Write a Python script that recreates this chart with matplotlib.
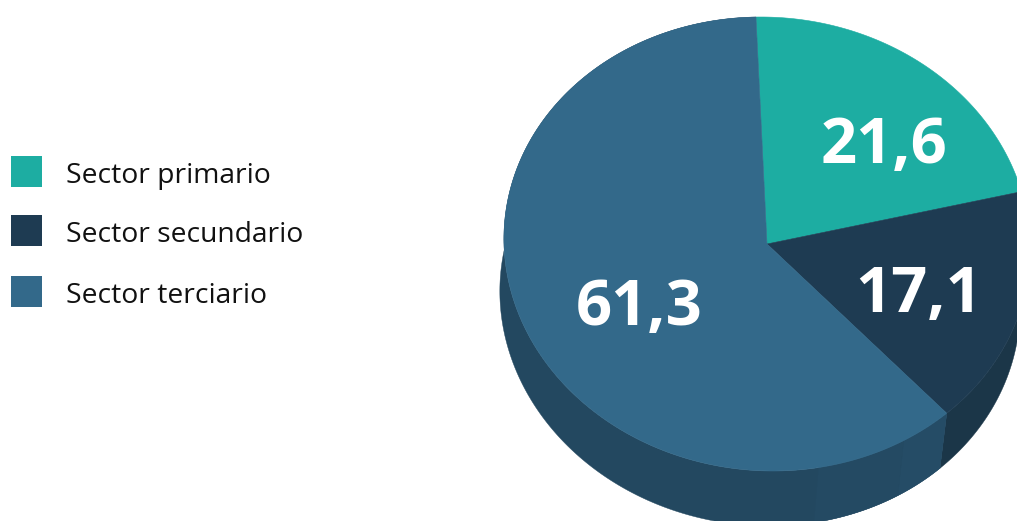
#!/usr/bin/env python3
"""
plot.py - Employment by sector, drawn as a tilted pie with a side wall
"""

import matplotlib
matplotlib.use("Agg")
import matplotlib.pyplot as plt
import numpy as np
from matplotlib.patches import Rectangle

sectors = ["Sector primario", "Sector secundario", "Sector terciario"]
shares = [21.6, 17.1, 61.3]
share_labels = ["21,6", "17,1", "61,3"]

W, H = 1017, 521

top_colors = ["#1DADA2", "#1E3B52", "#33698A"]
side_colors = [None, "#1B3648", "#234860"]

# the wall of the big slice gets slightly lighter towards the lit side
wall_shades = [(150, "#254C66"), (170, "#244A63")]

# ellipses are (cx, cy, rx, ry, shear) in pixels, the shear leans them a little
TOP = (767, 244, 263, 227, 6)
BASE = (760, 299, 260, 227, 9)
VERTEX = (767, 244)
START_ANGLE = -1.1


def ellipse_points(ell, a0, a1, n=240):
    """Points on an ellipse, angles in degrees clockwise from the top"""
    cx, cy, rx, ry, s = ell
    t = np.radians(np.linspace(a0, a1, n))
    u, v = np.sin(t), -np.cos(t)
    return cx + rx * u + s * v, cy + ry * v


def fill_wall(ax, a0, a1, color):
    x0, y0 = ellipse_points(TOP, a0, a1)
    x1, y1 = ellipse_points(BASE, a0, a1)
    ax.fill(np.r_[x0, x1[::-1]], np.r_[y0, y1[::-1]], color=color, lw=0.3, ec=color)


def main():
    plt.rcParams["font.family"] = ["Open Sans", "DejaVu Sans"]
    fig = plt.figure(figsize=(W / 100, H / 100), dpi=100)
    ax = fig.add_axes([0, 0, 1, 1])
    ax.set_xlim(0, W)
    ax.set_ylim(H, 0)
    ax.axis("off")

    edges = START_ANGLE + np.cumsum([0] + shares) / sum(shares) * 360

    # side wall first, the top face covers whatever overlaps
    for i in range(len(shares)):
        if side_colors[i] is not None:
            fill_wall(ax, edges[i], edges[i + 1], side_colors[i])
    prev = edges[2]
    for stop, color in wall_shades:
        fill_wall(ax, prev, stop, color)
        prev = stop

    # top face
    for i in range(len(shares)):
        x, y = ellipse_points(TOP, edges[i], edges[i + 1])
        ax.fill(np.r_[VERTEX[0], x], np.r_[VERTEX[1], y],
                color=top_colors[i], lw=0.4, ec=top_colors[i])

    label_pos = [(884, 163), (919, 312), (639, 325)]
    for (lx, ly), text in zip(label_pos, share_labels):
        ax.text(lx, ly, text, color="white", fontsize=45.5, fontweight="bold",
                ha="center", va="baseline")

    # legend
    legend_tops = [156, 215, 276]
    for top, name, color in zip(legend_tops, sectors, top_colors):
        ax.add_patch(Rectangle((11, top), 31, 31, color=color, lw=0))
        ax.text(66, top + 27, name, color="#111111", fontsize=20.3,
                ha="left", va="baseline")

    fig.savefig("out.png", dpi=100)
    plt.close(fig)


if __name__ == "__main__":
    main()
